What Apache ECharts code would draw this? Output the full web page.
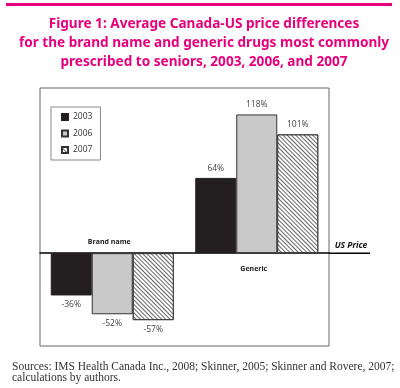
<!DOCTYPE html>
<html>
<head>
<meta charset="utf-8">
<script src="https://cdn.jsdelivr.net/npm/echarts@6/dist/echarts.min.js"></script>
<style>html,body{margin:0;padding:0;background:#fff}#c{width:400px;height:388px}</style>
</head>
<body>
<div id="c"></div>
<script>
var categories = ['Brand name', 'Generic'];
var seriesNames = ['2003', '2006', '2007'];
var values2003 = [-36, 64];
var values2006 = [-52, 118];
var values2007 = [-57, 101];
var titleText = 'Figure 1: Average Canada-US price differences\nfor the brand name and generic drugs most commonly\nprescribed to seniors, 2003, 2006, and 2007';
var sourceLines = ['Sources: IMS Health Canada Inc., 2008; Skinner, 2005; Skinner and Rovere, 2007;', 'calculations by authors.'];

var chart = echarts.init(document.getElementById('c'), null, {renderer: 'canvas'});

function makeData(vals) {
  return vals.map(function (v) {
    return {value: v, label: {position: v < 0 ? 'bottom' : 'top'}};
  });
}
var styles = [
  {color: '#231f20', borderColor: '#231f20', borderWidth: 1},
  {color: '#c9c9c9', borderColor: '#333', borderWidth: 1},
  {color: '#ffffff', borderColor: '#333', borderWidth: 1,
    decal: {symbol: 'rect', symbolSize: 1, color: '#666', backgroundColor: '#ffffff',
      dashArrayX: [[1, 0]], dashArrayY: [1, 2], rotation: Math.PI / 4}}
];
var allVals = [values2003, values2006, values2007];
var series = seriesNames.map(function (n, i) {
  return {
    name: n, type: 'bar', data: makeData(allVals[i]), barWidth: 41, barGap: '0%',
    itemStyle: styles[i],
    label: {show: true, distance: 5, formatter: '{c}%', fontSize: 8.5, color: '#444', fontFamily: 'Open Sans'}
  };
});

var option = {
  animation: false,
  backgroundColor: '#fff',
  title: {
    text: titleText, left: 199, textAlign: 'center', top: 10,
    textStyle: {color: '#e6007e', fontSize: 13.6, fontWeight: 'bold', fontFamily: 'Noto Sans', lineHeight: 19}
  },
  legend: {
    orient: 'vertical', left: 51, top: 107, itemWidth: 6, itemHeight: 6, itemGap: 6.5,
    icon: 'rect', borderColor: '#888', borderWidth: 1, padding: [5, 8, 5, 10],
    textStyle: {fontSize: 8.5, lineHeight: 10, color: '#333', fontFamily: 'Open Sans'},
    data: seriesNames
  },
  grid: {left: 40, right: 71, top: 88, bottom: 42, show: true, borderColor: '#666', borderWidth: 1},
  xAxis: {
    type: 'category', data: categories,
    axisLine: {onZero: true, lineStyle: {color: '#000', width: 1.5}},
    axisTick: {show: false}, axisLabel: {show: false}
  },
  yAxis: {
    type: 'value', min: -79, max: 140.5,
    axisLine: {show: false}, axisTick: {show: false}, axisLabel: {show: false}, splitLine: {show: false}
  },
  series: series
};
chart.setOption(option);

var y0 = chart.convertToPixel({yAxisIndex: 0}, 0);
var xb = chart.convertToPixel({xAxisIndex: 0}, categories[0]);
var xg = chart.convertToPixel({xAxisIndex: 0}, categories[1]);
chart.setOption({
  graphic: [
    {type: 'rect', shape: {x: 6, y: 3, width: 386, height: 3}, style: {fill: '#e6007e'}},
    {type: 'line', shape: {x1: 329, y1: y0, x2: 370, y2: y0}, style: {stroke: '#000', lineWidth: 1.5}},
    {type: 'text', x: 351, y: y0 - 8, style: {text: 'US Price', font: 'italic bold 8.5px "Open Sans"', fill: '#111', align: 'center', verticalAlign: 'middle'}},
    {type: 'text', x: xb - 3, y: y0 - 11, style: {text: categories[0], font: 'bold 7px "Open Sans"', fill: '#222', align: 'center', verticalAlign: 'middle'}},
    {type: 'text', x: xg - 3, y: y0 + 16, style: {text: categories[1], font: 'bold 7px "Open Sans"', fill: '#222', align: 'center', verticalAlign: 'middle'}},
    {type: 'text', x: 12, y: 367, style: {text: sourceLines[0], font: '11.5px "Liberation Serif"', fill: '#333', verticalAlign: 'middle'}},
    {type: 'text', x: 12, y: 378, style: {text: sourceLines[1], font: '11.5px "Liberation Serif"', fill: '#333', verticalAlign: 'middle'}}
  ]
});
</script>
</body>
</html>
